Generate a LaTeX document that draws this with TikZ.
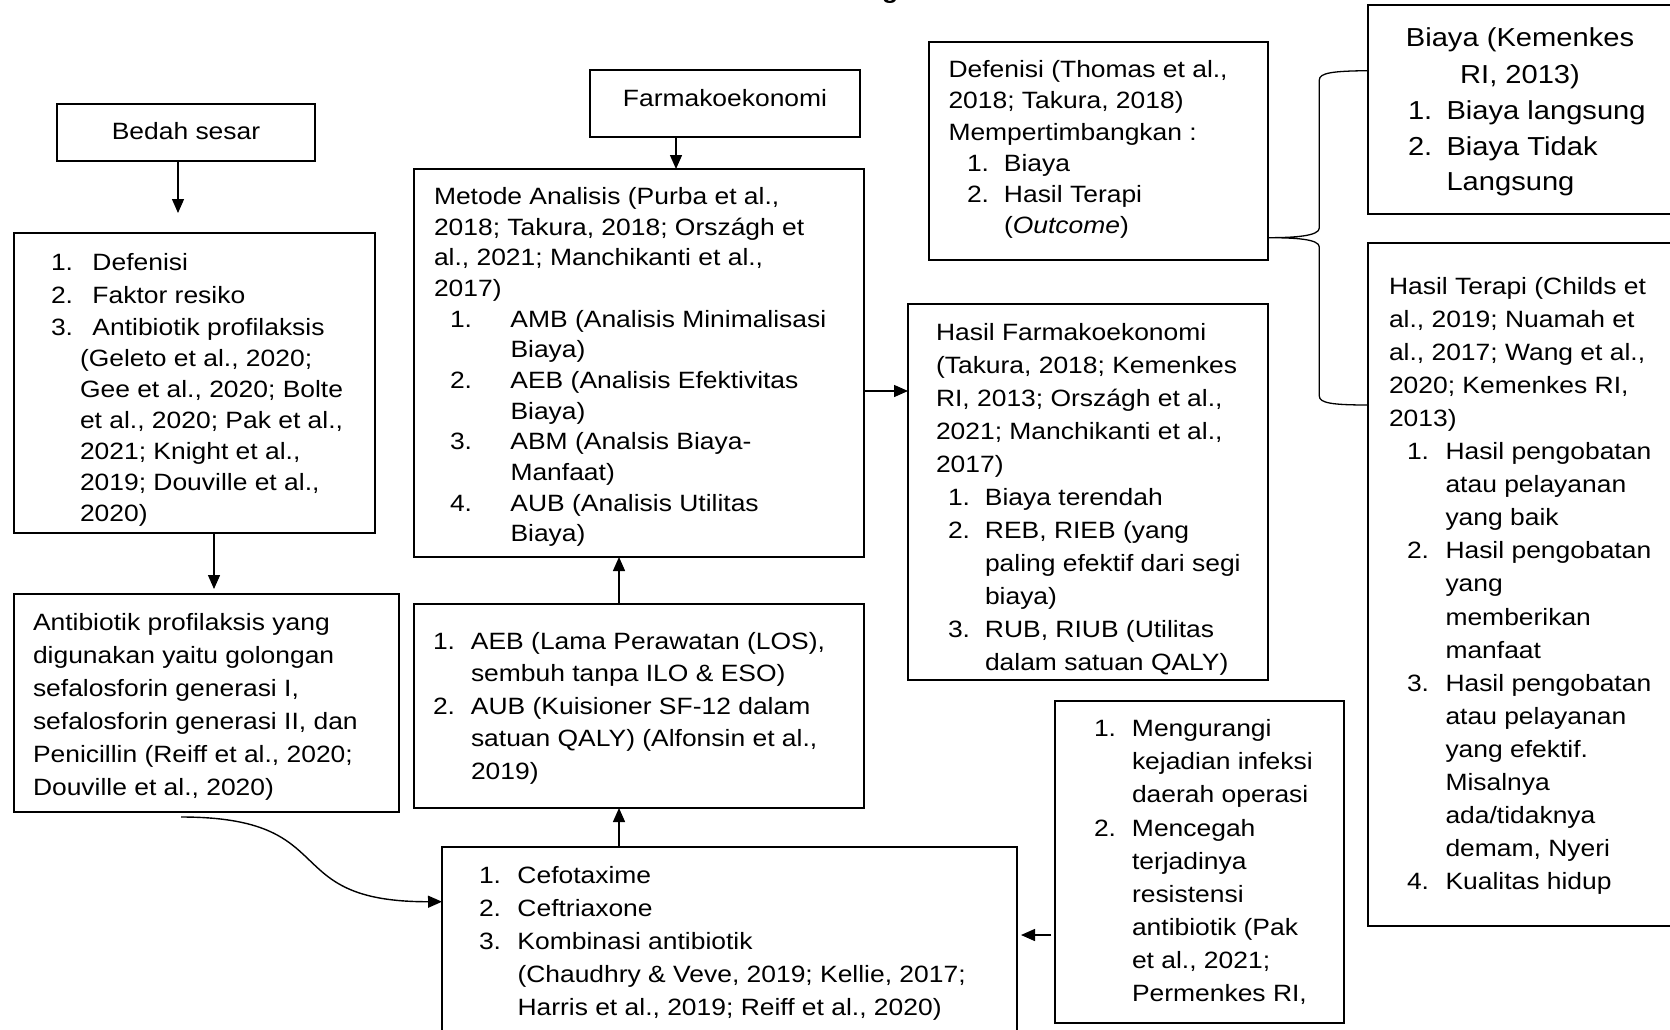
\documentclass[tikz,border=0pt]{standalone}
\usepackage{fontspec}
\setmainfont[FakeStretch=1.12]{Liberation Sans}
\usetikzlibrary{arrows.meta}
\newcommand\tbl[2]{\fontsize{23.6}{#1}\selectfont\begin{tabular}[t]{@{}l@{}}#2\end{tabular}}
\newcommand\nb[2]{\makebox[#1][l]{#2}}
\newcommand\ind[1]{\hspace*{#1}}
\newcommand\bx[5]{\node[box, minimum width={(#4)-(#2)}, minimum height={(#5)-(#3)}] (#1) at (#2,#3) {};}
\begin{document}
\begin{tikzpicture}[x=1pt,y=-1pt,
  box/.style={draw=black, line width=2.6pt, inner sep=0pt, outer sep=0pt, anchor=north west},
  txt/.style={inner sep=0pt, outer sep=0pt, anchor=base west},
  ctxt/.style={inner sep=0pt, outer sep=0pt, anchor=base},
  arr/.style={line width=1.4pt, -{Triangle[length=14pt,width=12pt]}},
  brace/.style={line width=1.3pt}]
\useasboundingbox (0,0) rectangle (1670,1030);

% boxes
\bx{bedah}{57}{104}{315}{161}
\bx{farm}{590}{70}{860}{137}
\bx{metode}{414}{169}{864}{557}
\bx{thomas}{929}{42}{1268}{260}
\bx{biaya}{1368}{5}{1700}{214}
\bx{terapi}{1368}{243}{1700}{926}
\bx{hasilf}{908}{304}{1268}{680}
\bx{deflist}{14}{233}{375}{533}
\bx{antib}{14}{594}{399}{812}
\bx{aeb}{414}{604}{864}{808}
\bx{cef}{442}{847}{1017}{1060}
\bx{meng}{1055}{701}{1344}{1023}

% title fragment (cut off at the top edge, as in the reference)
\node[inner sep=0pt, anchor=base west] (title) at (882,-1.5) {\fontsize{23.6}{28}\selectfont\bfseries g};

% texts
\node[ctxt] (tBedah) at (186,139.5) {\fontsize{23.6}{28}\selectfont Bedah sesar};
\node[ctxt] (tFarm) at (725,106.5) {\fontsize{23.6}{28}\selectfont Farmakoekonomi};

\node[txt] (tMet) at (434,204.5) {\tbl{30.65}{%
Metode Analisis (Purba et al.,\\
2018; Takura, 2018; Országh et\\
al., 2021; Manchikanti et al.,\\
2017)\\
\ind{16pt}\nb{60.5pt}{1.}AMB (Analisis Minimalisasi\\
\ind{76.5pt}Biaya)\\
\ind{16pt}\nb{60.5pt}{2.}AEB (Analisis Efektivitas\\
\ind{76.5pt}Biaya)\\
\ind{16pt}\nb{60.5pt}{3.}ABM (Analsis Biaya-\\
\ind{76.5pt}Manfaat)\\
\ind{16pt}\nb{60.5pt}{4.}AUB (Analisis Utilitas\\
\ind{76.5pt}Biaya)}};

\node[txt] (tTho) at (948.5,77.5) {\tbl{31.3}{%
Defenisi (Thomas et al.,\\
2018; Takura, 2018)\\
Mempertimbangkan :\\
\ind{18.5pt}\nb{37pt}{1.}Biaya\\
\ind{18.5pt}\nb{37pt}{2.}Hasil Terapi\\
\ind{55.5pt}(\textit{Outcome})}};

\node[ctxt] (tBiH) at (1520,46.7) {\fontsize{26}{36.6}\selectfont\begin{tabular}[t]{@{}c@{}}Biaya (Kemenkes\\RI, 2013)\end{tabular}};
\node[txt] (tBiL) at (1408,119.3) {\fontsize{26}{35.8}\selectfont\begin{tabular}[t]{@{}l@{}}\nb{38.5pt}{1.}Biaya langsung\\\nb{38.5pt}{2.}Biaya Tidak\\\ind{38.5pt}Langsung\end{tabular}};

\node[txt] (tTer) at (1389,294) {\tbl{33.1}{%
Hasil Terapi (Childs et\\
al., 2019; Nuamah et\\
al., 2017; Wang et al.,\\
2020; Kemenkes RI,\\
2013)\\
\ind{18pt}\nb{38.5pt}{1.}Hasil pengobatan\\
\ind{56.5pt}atau pelayanan\\
\ind{56.5pt}yang baik\\
\ind{18pt}\nb{38.5pt}{2.}Hasil pengobatan\\
\ind{56.5pt}yang\\
\ind{56.5pt}memberikan\\
\ind{56.5pt}manfaat\\
\ind{18pt}\nb{38.5pt}{3.}Hasil pengobatan\\
\ind{56.5pt}atau pelayanan\\
\ind{56.5pt}yang efektif.\\
\ind{56.5pt}Misalnya\\
\ind{56.5pt}ada/tidaknya\\
\ind{56.5pt}demam, Nyeri\\
\ind{18pt}\nb{38.5pt}{4.}Kualitas hidup}};

\node[txt] (tHF) at (936,340.5) {\tbl{33}{%
Hasil Farmakoekonomi\\
(Takura, 2018; Kemenkes\\
RI, 2013; Országh et al.,\\
2021; Manchikanti et al.,\\
2017)\\
\ind{12pt}\nb{37pt}{1.}Biaya terendah\\
\ind{12pt}\nb{37pt}{2.}REB, RIEB (yang\\
\ind{49pt}paling efektif dari segi\\
\ind{49pt}biaya)\\
\ind{12pt}\nb{37pt}{3.}RUB, RIUB (Utilitas\\
\ind{49pt}dalam satuan QALY)}};

\node[txt] (tDL) at (51,270.7) {\tbl{31}{%
\nb{41.5pt}{1.}Defenisi\\[1.6pt]
\nb{41.5pt}{2.}Faktor resiko\\[1.6pt]
\nb{41.5pt}{3.}Antibiotik profilaksis\\
\ind{29pt}(Geleto et al., 2020;\\
\ind{29pt}Gee et al., 2020; Bolte\\
\ind{29pt}et al., 2020; Pak et al.,\\
\ind{29pt}2021; Knight et al.,\\
\ind{29pt}2019; Douville et al.,\\
\ind{29pt}2020)}};

\node[txt] (tAnt) at (33,630) {\tbl{33}{%
Antibiotik profilaksis yang\\
digunakan yaitu golongan\\
sefalosforin generasi I,\\
sefalosforin generasi II, dan\\
Penicillin (Reiff et al., 2020;\\
Douville et al., 2020)}};

\node[txt] (tAeb) at (433,649.3) {\tbl{32.5}{%
\nb{38pt}{1.}AEB (Lama Perawatan (LOS),\\
\ind{38pt}sembuh tanpa ILO \& ESO)\\
\nb{38pt}{2.}AUB (Kuisioner SF-12 dalam\\
\ind{38pt}satuan QALY) (Alfonsin et al.,\\
\ind{38pt}2019)}};

\node[txt] (tCef) at (479,883.5) {\tbl{33}{%
\nb{38.5pt}{1.}Cefotaxime\\
\nb{38.5pt}{2.}Ceftriaxone\\
\nb{38.5pt}{3.}Kombinasi antibiotik\\
\ind{38.5pt}(Chaudhry \& Veve, 2019; Kellie, 2017;\\
\ind{38.5pt}Harris et al., 2019; Reiff et al., 2020)}};

\node[txt] (tMeng) at (1094,736.7) {\tbl{33.1}{%
\nb{38pt}{1.}Mengurangi\\
\ind{38pt}kejadian infeksi\\
\ind{38pt}daerah operasi\\
\nb{38pt}{2.}Mencegah\\
\ind{38pt}terjadinya\\
\ind{38pt}resistensi\\
\ind{38pt}antibiotik (Pak\\
\ind{38pt}et al., 2021;\\
\ind{38pt}Permenkes RI,}};

% connectors
\coordinate (p1) at (178,213);
\draw[arr] (bedah.south -| p1) -- (p1);
\coordinate (p2) at (676,0);
\draw[arr] (farm.south -| p2) -- (metode.north -| p2);
\coordinate (p3) at (214,589);
\draw[arr] (deflist.south -| p3) -- (p3);
\coordinate (p4) at (619,0);
\draw[arr] (aeb.north -| p4) -- (metode.south -| p4);
\draw[arr] (cef.north -| p4) -- (aeb.south -| p4);
\coordinate (p5) at (0,391);
\draw[arr] (metode.east |- p5) -- (hasilf.west |- p5);
\coordinate (p6) at (0,935);
\draw[arr, shorten <=4pt, shorten >=4pt] (meng.west |- p6) -- (cef.east |- p6);
\coordinate (c0) at (181,817);
\coordinate (c1) at (0,901.7);
\draw[arr] (c0) .. controls (345,817) and (275,902) .. (cef.west |- c1);

% brace
\coordinate (bt) at (0,70.7);
\coordinate (bm) at (0,237.7);
\coordinate (bb) at (0,405);
\draw[brace] (biaya.west |- bt) .. controls (1332,71) and (1319.3,73) .. (1319.3,80)
  -- (1319.3,228) .. controls (1319.3,236) and (1295,237.7) .. (thomas.east |- bm)
  .. controls (1295,237.7) and (1319.3,239) .. (1319.3,247)
  -- (1319.3,396) .. controls (1319.3,403) and (1332,405) .. (terapi.west |- bb);
\end{tikzpicture}
\end{document}
